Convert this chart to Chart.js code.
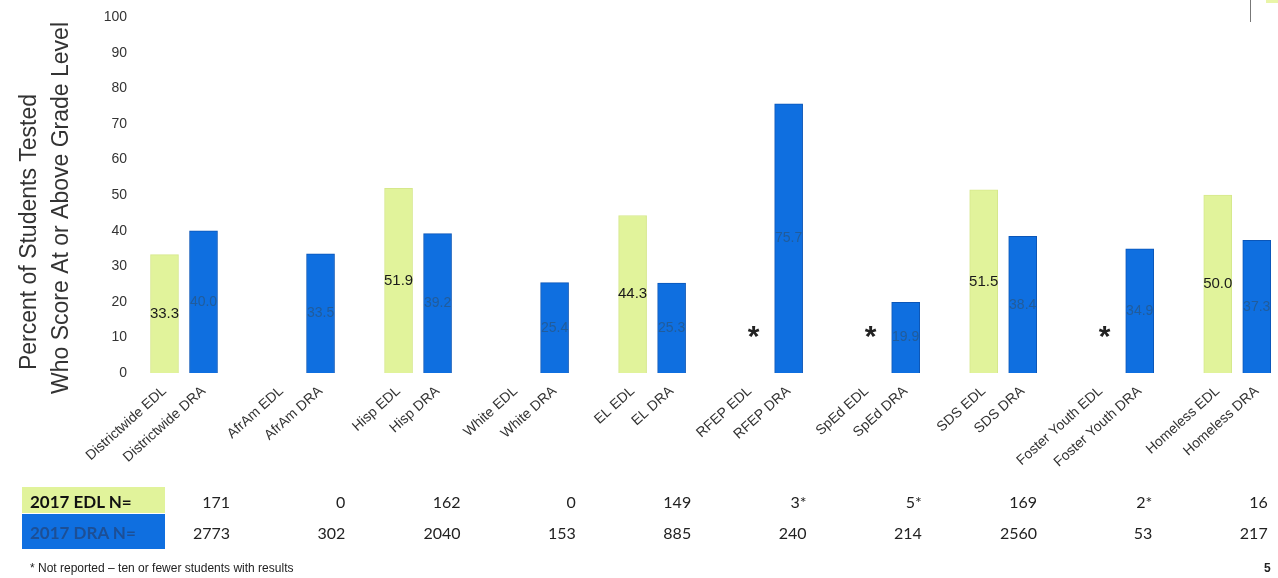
<!DOCTYPE html>
<html>
<head>
<meta charset="utf-8">
<script src="https://cdn.jsdelivr.net/npm/chart.js@4.4.0/dist/chart.umd.min.js"></script>
<style>
  html, body { margin: 0; padding: 0; background: #fff; }
  #wrap { position: relative; width: 1278px; height: 578px; overflow: hidden; font-family: Arial, "Liberation Sans", sans-serif; }
  #grafico { position: absolute; left: 0; top: -9px; }
  .linha { position: absolute; left: 0; width: 1278px; }
  .rotulo { position: absolute; left: 22px; width: 143px; height: 100%; font-weight: bold; font-size: 17px; padding-left: 8px; box-sizing: border-box; font-family: Lato, Arial, sans-serif; }
  .celula { position: absolute; width: 115px; text-align: right; font-size: 16px; color: #222; font-family: Lato, Arial, sans-serif; }
  #nota { position: absolute; left: 30px; top: 561px; font-size: 12px; color: #222; }
  #pagina { position: absolute; left: 1264px; top: 561px; font-size: 12px; font-weight: bold; color: #222; }
  #traco { position: absolute; left: 1250px; top: 0; width: 1px; height: 22px; background: #777; }
  #pedaco { position: absolute; left: 1266px; top: 0; width: 12px; height: 3px; background: #e9f5a8; }
</style>
</head>
<body>
<div id="wrap">
  <canvas id="grafico" width="1278" height="587"></canvas>
  <div id="tabela"></div>
  <div id="nota">* Not reported – ten or fewer students with results</div>
  <div id="pagina">5</div>
  <div id="traco"></div>
  <div id="pedaco"></div>
</div>
<script>
// Grupos e valores (% no nível ou acima)
const grupos = ['Districtwide', 'AfrAm', 'Hisp', 'White', 'EL', 'RFEP', 'SpEd', 'SDS', 'Foster Youth', 'Homeless'];
const valoresEDL = [33.3, null, 51.9, null, 44.3, null, null, 51.5, null, 50.0];
const valoresDRA = [40.0, 33.5, 39.2, 25.4, 25.3, 75.7, 19.9, 38.4, 34.9, 37.3];
const naoReportado = [false, false, false, false, false, true, true, false, true, false];
const nEDL = ['171', '0', '162', '0', '149', '3*', '5*', '169', '2*', '16'];
const nDRA = ['2773', '302', '2040', '153', '885', '240', '214', '2560', '53', '217'];
const ticksY = [0, 10, 20, 30, 40, 50, 60, 70, 80, 90, 100];

const corEDL = '#e1f39b';
const corDRA = '#0f6fe0';

// monta categorias com espaço entre os pares
const rotulos = [], dadosEDL = [], dadosDRA = [], asteriscos = [];
grupos.forEach((g, i) => {
    if (i > 0) { rotulos.push(''); dadosEDL.push(null); dadosDRA.push(null); asteriscos.push(false); }
    rotulos.push(g + ' EDL'); dadosEDL.push(valoresEDL[i]); dadosDRA.push(null); asteriscos.push(naoReportado[i]);
    rotulos.push(g + ' DRA'); dadosEDL.push(null); dadosDRA.push(valoresDRA[i]); asteriscos.push(false);
});

// tabela de N
const tabela = document.getElementById('tabela');
[['2017 EDL N=', nEDL, 487, 26, corEDL, '#111'], ['2017 DRA N=', nDRA, 514, 35, corDRA, '#1d4f95']].forEach(([txt, lista, topo, alt, fundo, corTxt]) => {
    const linha = document.createElement('div');
    linha.className = 'linha';
    linha.style.top = topo + 'px';
    linha.style.height = alt + 'px';
    linha.style.lineHeight = (alt + 3) + 'px';
    linha.innerHTML = `<div class="rotulo" style="background:${fundo};color:${corTxt}">${txt}</div>` +
        lista.map((v, i) => `<div class="celula" style="left:${115 + i * 115.3}px">${v}</div>`).join('');
    tabela.appendChild(linha);
});

const pluginExtras = {
    id: 'extras',
    afterDatasetsDraw(chart) {
        const ctx = chart.ctx;
        const y = chart.scales.y, x = chart.scales.x;
        ctx.save();
        ctx.textAlign = 'center';
        ctx.textBaseline = 'middle';
        chart.getDatasetMeta(0).data.forEach((bar, i) => {
            const v = dadosEDL[i];
            if (v == null) return;
            ctx.font = '15px Arial';
            ctx.fillStyle = '#1a1a1a';
            ctx.fillText(v.toFixed(1), bar.x, (bar.y + bar.base) / 2);
        });
        chart.getDatasetMeta(1).data.forEach((bar, i) => {
            const v = dadosDRA[i];
            if (v == null) return;
            ctx.font = '14px Arial';
            ctx.fillStyle = 'rgba(45,80,110,0.6)';
            ctx.fillText(v.toFixed(1), bar.x, (bar.y + bar.base) / 2);
        });
        asteriscos.forEach((a, i) => {
            if (!a) return;
            ctx.font = 'bold 30px Arial';
            ctx.fillStyle = '#222';
            ctx.fillText('*', x.getPixelForValue(i) + 4, y.getPixelForValue(10) + 0);
        });
        // título do eixo Y (canvas deslocado 9px para cima)
        ctx.font = '23px Arial';
        ctx.fillStyle = '#333';
        [['Percent of Students Tested', 30, 241], ['Who Score At or Above Grade Level', 62, 217]].forEach(([t, px, py]) => {
            ctx.save();
            ctx.translate(px, py);
            ctx.rotate(-Math.PI / 2);
            ctx.fillText(t, 0, 0);
            ctx.restore();
        });
        ctx.restore();
    }
};

new Chart(document.getElementById('grafico'), {
    type: 'bar',
    data: {
        labels: rotulos,
        datasets: [
            { label: 'EDL', data: dadosEDL, backgroundColor: corEDL, borderColor: '#d6e88c', borderWidth: 1, grouped: false, barThickness: 28 },
            { label: 'DRA', data: dadosDRA, backgroundColor: corDRA, borderColor: '#0b56b8', borderWidth: 1, grouped: false, barThickness: 28 }
        ]
    },
    options: {
        responsive: false,
        animation: false,
        layout: { padding: { top: 7, right: 1, left: 0, bottom: 0 } },
        plugins: { legend: { display: false }, tooltip: { enabled: false } },
        scales: {
            y: {
                min: 0, max: 100,
                afterFit: s => { s.width = 145; },
                afterBuildTicks: s => { s.ticks = ticksY.map(v => ({ value: v })); },
                grid: { display: false, drawTicks: false },
                border: { display: false },
                ticks: { padding: 18, color: '#333', font: { family: 'Arial', size: 14 } }
            },
            x: {
                afterFit: s => { s.height = 205; },
                grid: { display: false, drawTicks: false },
                border: { display: false },
                ticks: { autoSkip: false, minRotation: 42, maxRotation: 42, padding: 10, color: '#333', font: { family: 'Arial', size: 14 } }
            }
        }
    },
    plugins: [pluginExtras]
});
</script>
</body>
</html>
